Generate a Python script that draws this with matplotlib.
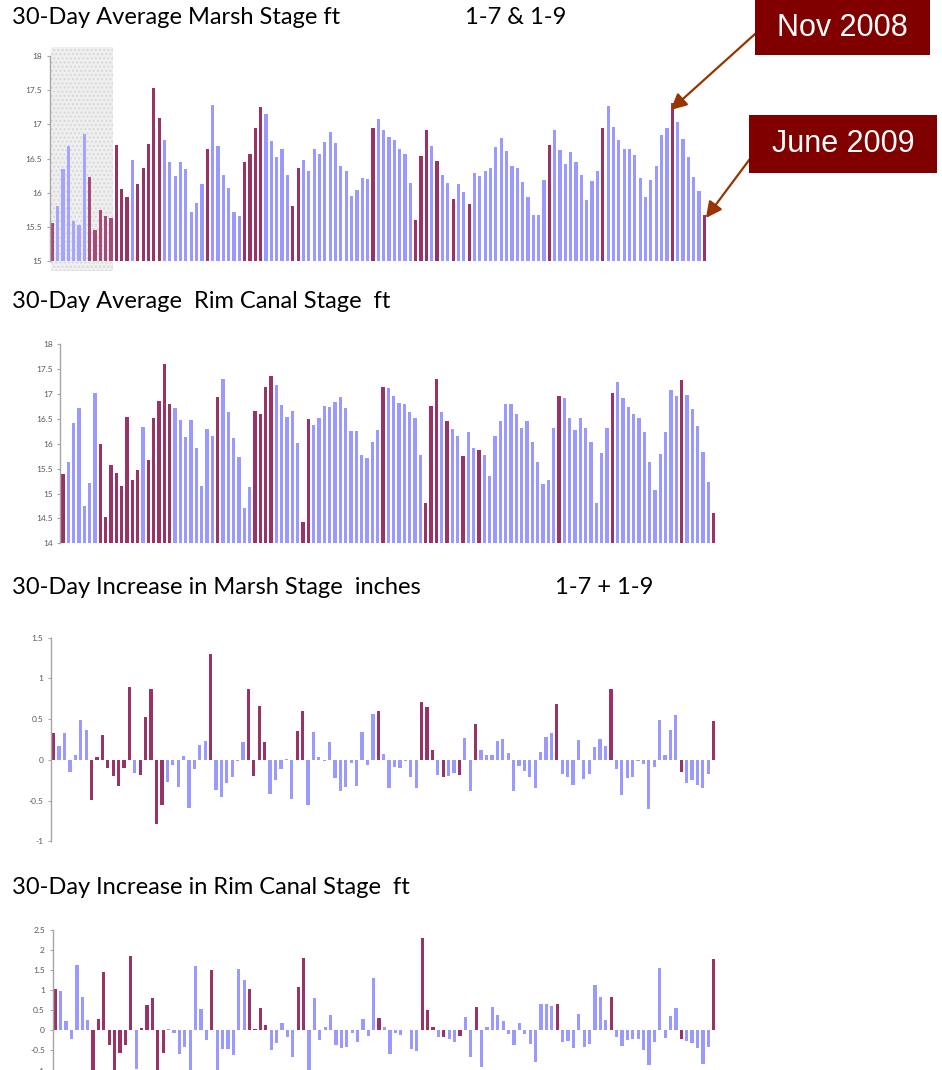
import numpy as np
import matplotlib
matplotlib.use("Agg")
import matplotlib.pyplot as plt
from matplotlib.patches import Rectangle
from matplotlib.ticker import FuncFormatter, MultipleLocator

plt.rcParams['axes.unicode_minus'] = False

# months flagged in maroon (1-based position in the series)
highlight = [1, 8, 9, 10, 11, 12, 13, 14, 15, 17, 18, 19, 20, 21, 30, 37, 38, 39, 40,
             46, 47, 61, 69, 70, 71, 73, 76, 79, 94, 104, 117, 123]

marsh_avg = [15.56, 15.81, 16.35, 16.69, 15.59, 15.53, 16.86, 16.23, 15.46, 15.74,
             15.66, 15.63, 16.70, 16.06, 15.94, 16.48, 16.13, 16.36, 16.71, 17.53,
             17.09, 16.77, 16.45, 16.25, 16.45, 16.35, 15.72, 15.85, 16.13, 16.64,
             17.28, 16.69, 16.26, 16.07, 15.71, 15.66, 16.45, 16.57, 16.95, 17.26,
             17.15, 16.76, 16.52, 16.64, 16.26, 15.81, 16.36, 16.48, 16.31, 16.64,
             16.57, 16.74, 16.89, 16.73, 16.39, 16.31, 15.95, 16.04, 16.22, 16.20,
             16.95, 17.08, 16.92, 16.82, 16.77, 16.64, 16.57, 16.14, 15.60, 16.54,
             16.92, 16.69, 16.47, 16.26, 16.14, 15.91, 16.13, 16.01, 15.84, 16.29,
             16.25, 16.32, 16.36, 16.67, 16.80, 16.61, 16.39, 16.36, 16.16, 15.94,
             15.68, 15.68, 16.19, 16.70, 16.92, 16.63, 16.42, 16.60, 16.45, 16.26,
             15.90, 16.17, 16.31, 16.95, 17.27, 16.96, 16.77, 16.64, 16.64, 16.55,
             16.22, 15.94, 16.19, 16.39, 16.85, 16.95, 17.31, 17.04, 16.79, 16.52,
             16.23, 16.03, 15.68]

rim_avg = [15.39, 15.63, 16.42, 16.72, 14.75, 15.21, 17.02, 16.00, 14.53, 15.57,
           15.41, 15.15, 16.54, 15.27, 15.47, 16.34, 15.68, 16.52, 16.86, 17.60,
           16.80, 16.72, 16.48, 16.14, 16.48, 15.92, 15.15, 16.30, 16.16, 16.94,
           17.30, 16.64, 16.12, 15.74, 14.71, 15.13, 16.66, 16.60, 17.14, 17.36,
           17.18, 16.78, 16.54, 16.66, 16.02, 14.43, 16.50, 16.38, 16.52, 16.76,
           16.74, 16.84, 16.94, 16.72, 16.26, 16.26, 15.78, 15.72, 16.04, 16.28,
           17.14, 17.12, 16.96, 16.82, 16.80, 16.64, 16.52, 15.78, 14.81, 16.76,
           17.30, 16.64, 16.46, 16.30, 16.16, 15.76, 16.24, 15.92, 15.88, 15.78,
           15.35, 16.16, 16.46, 16.80, 16.80, 16.60, 16.32, 16.46, 16.04, 15.63,
           15.19, 15.27, 16.32, 16.96, 16.92, 16.52, 16.28, 16.52, 16.32, 16.04,
           14.81, 15.82, 16.32, 17.02, 17.24, 16.92, 16.74, 16.60, 16.52, 16.24,
           15.63, 15.07, 15.80, 16.24, 17.08, 16.96, 17.28, 16.98, 16.70, 16.36,
           15.84, 15.23, 14.61]

marsh_inc = [0.33, 0.17, 0.33, -0.15, 0.06, 0.49, 0.37, -0.49, 0.04, 0.31,
             -0.10, -0.20, -0.32, -0.10, 0.90, -0.16, -0.18, 0.53, 0.87, -0.79,
             -0.56, -0.27, -0.06, -0.33, 0.05, -0.59, -0.11, 0.18, 0.23, 1.30,
             -0.37, -0.45, -0.28, -0.21, -0.01, 0.22, 0.87, -0.20, 0.66, 0.22,
             -0.42, -0.25, -0.11, 0.01, -0.48, 0.36, 0.60, -0.56, 0.34, 0.04,
             -0.01, 0.22, -0.22, -0.38, -0.33, -0.04, -0.32, 0.34, -0.06, 0.56,
             0.60, 0.07, -0.34, -0.09, -0.10, -0.02, -0.21, -0.34, 0.71, 0.65,
             0.12, -0.18, -0.21, -0.20, -0.16, -0.18, 0.27, -0.38, 0.44, 0.12,
             0.06, 0.06, 0.23, 0.26, 0.09, -0.38, -0.07, -0.14, -0.21, -0.34,
             0.10, 0.28, 0.33, 0.69, -0.17, -0.21, -0.31, 0.25, -0.23, -0.17,
             0.16, 0.26, 0.17, 0.87, -0.11, -0.43, -0.22, -0.21, -0.01, -0.05,
             -0.60, -0.09, 0.49, 0.06, 0.37, 0.55, -0.15, -0.29, -0.25, -0.31,
             -0.34, -0.17, 0.48]

rim_inc = [1.03, 0.98, 0.23, -0.22, 1.62, 0.83, 0.26, -1.20, 0.28, 1.45,
           -0.36, -1.20, -0.56, -0.36, 1.85, -0.96, 0.06, 0.63, 0.80, -1.20,
           -0.56, 0.03, -0.07, -0.59, -0.41, -1.20, 1.60, 0.53, -0.24, 1.50,
           -1.20, -0.46, -0.46, -0.61, 1.52, 1.25, 1.03, 0.03, 0.55, 0.13,
           -0.49, -0.31, 0.18, -0.17, -0.66, 1.08, 1.80, -1.20, 0.80, -0.24,
           0.08, 0.38, -0.36, -0.44, -0.41, -0.07, -0.29, 0.28, -0.14, 1.30,
           0.31, 0.09, -0.58, -0.06, -0.11, 0.02, -0.46, -0.51, 2.30, 0.51,
           0.09, -0.16, -0.16, -0.21, -0.28, -0.13, 0.34, -0.65, 0.59, -0.90,
           0.09, 0.59, 0.39, 0.24, -0.08, -0.36, 0.19, -0.08, -0.33, -0.78,
           0.66, 0.66, 0.61, 0.66, -0.28, -0.26, -0.43, 0.41, -0.41, -0.33,
           1.13, 0.84, 0.26, 0.84, -0.16, -0.38, -0.23, -0.21, -0.21, -0.48,
           -0.85, -0.28, 1.56, -0.18, 0.36, 0.56, -0.21, -0.26, -0.31, -0.43,
           -0.83, -0.41, 1.78]

BLUE = '#9999FF'
MAROON = '#993366'
W, H = 942, 1070

n = len(marsh_avg)
x = np.arange(n)
colors = [MAROON if (i + 1) in highlight else BLUE for i in range(n)]

fig = plt.figure(figsize=(W / 100, H / 100), dpi=100)


def px_axes(left, right, top, bottom):
    return fig.add_axes([left / W, 1 - bottom / H, (right - left) / W, (bottom - top) / H])


def style(ax, lo, hi, step):
    ax.set_xlim(-0.5, n - 0.5)
    ax.set_ylim(lo, hi)
    ax.patch.set_visible(False)
    ax.yaxis.set_major_locator(MultipleLocator(step))
    ax.yaxis.set_major_formatter(FuncFormatter(lambda v, p: '%g' % round(v, 2)))
    for s in ['top', 'right', 'bottom']:
        ax.spines[s].set_visible(False)
    ax.spines['left'].set_color('#A6A6A6')
    ax.spines['left'].set_linewidth(1.0)
    ax.set_xticks([])
    ax.tick_params(axis='y', length=2.5, width=0.8, color='#A6A6A6', pad=3,
                   labelsize=6, labelcolor='#595959')
    for lab in ax.get_yticklabels():
        lab.set_family('Lato')


def bars_from_floor(ax, vals, floor):
    v = np.array(vals)
    ax.bar(x, v - floor, bottom=floor, width=0.6, color=colors, zorder=2)


# panel 1 - marsh stage
ax1 = px_axes(49.6, 707, 56, 261)
bars_from_floor(ax1, marsh_avg, 15)
style(ax1, 15, 18, 0.5)
shade = Rectangle((-0.25, 14.86), 11.55, 3.27, facecolor='#EDEDED', edgecolor='#D4D4D4',
                  hatch='....', linewidth=0, clip_on=False, zorder=1)
ax1.add_patch(shade)
veil = Rectangle((-0.25, 14.86), 11.55, 3.27, facecolor='white', edgecolor='none',
                 alpha=0.12, clip_on=False, zorder=3)
ax1.add_patch(veil)

# panel 2 - rim canal stage
ax2 = px_axes(60.3, 716.4, 344.3, 543.3)
bars_from_floor(ax2, rim_avg, 14)
style(ax2, 14, 18, 0.5)

# panel 3 - marsh increase
ax3 = px_axes(51, 716.4, 637.7, 841.3)
ax3.bar(x, marsh_inc, width=0.6, color=colors, zorder=2)
style(ax3, -1, 1.5, 0.5)

# panel 4 - rim canal increase (cut off at bottom of page)
ax4 = px_axes(52.6, 716.4, 929.7, 1070.6)
ax4.bar(x, rim_inc, width=0.6, color=colors, zorder=2)
style(ax4, -1, 2.5, 0.5)

# titles
tfont = dict(family='Lato', fontsize=17, color='black', va='center', ha='left')
fig.text(12 / W, 1 - 18 / H, '30-Day Average Marsh Stage ft', **tfont)
fig.text(465 / W, 1 - 18 / H, '1-7 & 1-9', **tfont)
fig.text(12 / W, 1 - 301 / H, '30-Day Average  Rim Canal Stage  ft', **tfont)
fig.text(12 / W, 1 - 587 / H, '30-Day Increase in Marsh Stage  inches', **tfont)
fig.text(555 / W, 1 - 587 / H, '1-7 + 1-9', **tfont)
fig.text(12 / W, 1 - 887 / H, '30-Day Increase in Rim Canal Stage  ft', **tfont)

# callout boxes
for (l, r, t, b, label) in [(755, 930, 0, 55, 'Nov 2008'), (749, 937, 115, 173, 'June 2009')]:
    fig.patches.append(Rectangle((l / W, 1 - b / H), (r - l) / W, (b - t) / H,
                                 transform=fig.transFigure, facecolor='#800000',
                                 edgecolor='none', zorder=5))
    fig.text((l + r) / 2 / W, 1 - (t + b) / 2 / H, label, family='Liberation Sans',
             fontsize=22, color='white', ha='center', va='center', zorder=6)

arrow = dict(arrowstyle='-|>', color='#993300', lw=1.6, mutation_scale=24, shrinkA=0, shrinkB=0)
ax1.annotate('', xy=(115.7, marsh_avg[116] - 0.1), xycoords='data',
             xytext=(765, H - 25), textcoords='figure pixels', arrowprops=arrow,
             annotation_clip=False)
ax1.annotate('', xy=(122.3, marsh_avg[122] - 0.05), xycoords='data',
             xytext=(764, H - 140), textcoords='figure pixels', arrowprops=arrow,
             annotation_clip=False)

fig.savefig('out.png', dpi=100)
